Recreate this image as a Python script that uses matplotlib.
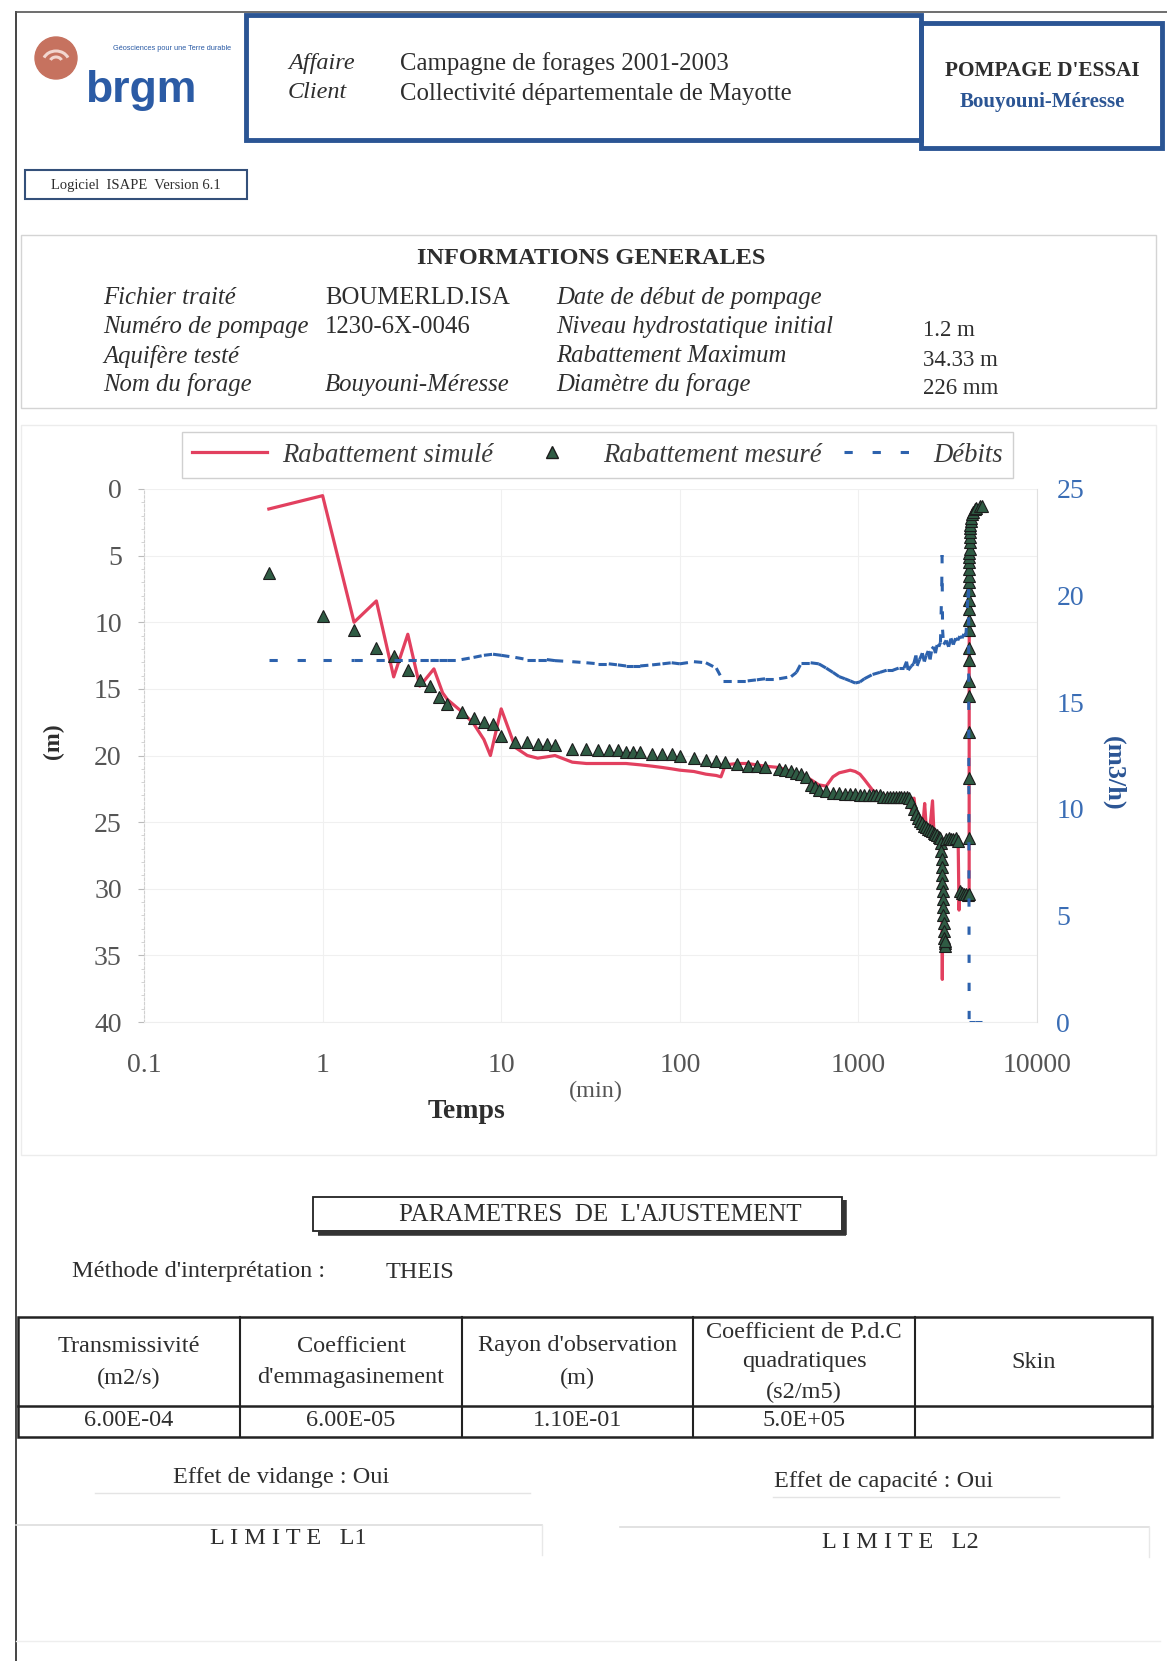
import numpy as np
import matplotlib.pyplot as plt
from matplotlib.patches import Rectangle, Circle, Arc
from matplotlib.lines import Line2D

plt.rcParams['font.family'] = ['Liberation Serif', 'DejaVu Serif']

# rabattement mesure (pompage) : temps en min, rabattement en m
t_mes = [0.5, 1, 1.5, 2, 2.5, 3, 3.5, 4, 4.5, 5, 6, 7, 8, 9, 10, 12, 14, 16, 18, 20,
         25, 30, 35, 40, 45, 50, 55, 60, 70, 80, 90, 100, 120, 140, 160, 180, 210,
         240, 270, 300, 360, 390, 420, 450, 480, 510, 540, 570, 600, 660, 720, 780,
         840, 900, 960, 1020, 1080, 1140, 1200, 1260, 1320, 1380, 1440, 1500, 1560,
         1620, 1680, 1740, 1800, 1860, 1920, 1980, 2040, 2100, 2160, 2220, 2280,
         2340, 2400, 2460, 2520, 2580, 2640, 2700, 2760, 2820, 2880,
         2905, 2915, 2925, 2935, 2945, 2955, 2965, 2975, 2985, 2995, 3005, 3015,
         3025, 3035, 3045, 3055,
         3100, 3200, 3300, 3400, 3500, 3600, 3700, 3800, 3900, 4000, 4100, 4170]
s_mes = [6.3, 9.5, 10.6, 11.9, 12.5, 13.6, 14.3, 14.8, 15.6, 16.1, 16.7, 17.2, 17.5,
         17.6, 18.5, 19.0, 19.0, 19.1, 19.1, 19.2, 19.5, 19.5, 19.6, 19.6, 19.6, 19.7,
         19.7, 19.7, 19.9, 19.9, 19.9, 20.0, 20.2, 20.3, 20.4, 20.5, 20.6, 20.8, 20.8,
         20.9, 21.0, 21.1, 21.2, 21.3, 21.4, 21.6, 22.2, 22.4, 22.6, 22.7, 22.8, 22.8,
         22.9, 22.9, 22.9, 23.0, 23.0, 23.0, 23.0, 23.0, 23.0, 23.1, 23.1, 23.1, 23.1,
         23.1, 23.1, 23.1, 23.1, 23.1, 23.2, 23.5, 24.0, 24.4, 24.7, 24.9, 25.1, 25.3,
         25.4, 25.5, 25.6, 25.7, 25.8, 25.9, 26.0, 26.1, 26.2,
         26.6, 27.2, 27.8, 28.4, 29.0, 29.6, 30.2, 30.8, 31.4, 32.0, 32.6, 33.2, 33.7,
         34.1, 34.33, 33.9,
         26.3, 26.2, 26.3, 26.3, 26.2, 26.4, 30.2, 30.3, 30.4, 30.4, 30.5, 30.4]

# remontee apres arret du pompage
t_arret = 4170
dt_rem = [0.5, 1, 1.5, 2, 2.5, 3, 3.5, 4, 5, 6, 7, 8, 9, 10, 12, 14, 16, 18, 20, 25,
          30, 40, 50, 60, 80, 100, 150, 200, 300, 400, 600, 720]
s_rem = [26.2, 21.7, 18.2, 15.5, 14.4, 12.8, 11.9, 10.6, 9.8, 9.0, 8.3, 7.6, 7.0, 6.5,
         6.0, 5.5, 5.1, 4.8, 4.5, 4.0, 3.6, 3.2, 2.9, 2.7, 2.4, 2.2, 1.9, 1.7, 1.5, 1.4,
         1.3, 1.25]

# rabattement simule
t_sim = [0.5, 1, 1.5, 2, 2.5, 3, 3.5, 4.2, 4.7, 5, 6, 7, 8, 8.7, 10, 12, 14, 16, 18,
         20, 25, 30, 40, 50, 60, 70, 80, 90, 100, 120, 140, 160, 170, 180, 210, 240,
         300, 360, 420, 480, 540, 600, 660, 720, 780, 840, 900, 960, 1020, 1080, 1200,
         1320, 1440, 1560, 1680, 1800, 1920, 2000, 2050, 2100, 2200, 2300, 2350, 2400,
         2500, 2600, 2650, 2750, 2850, 2930, 2950, 2980, 3100, 3300, 3500, 3620, 3660,
         3700, 3900, 4100, 4170]
s_sim = [1.5, 0.5, 10.0, 8.4, 14.1, 10.9, 14.8, 13.5, 15.3, 15.8, 16.7, 17.6, 18.8,
         20.0, 16.5, 19.4, 20.0, 20.2, 20.1, 20.0, 20.5, 20.6, 20.6, 20.6, 20.7, 20.8,
         20.9, 21.0, 21.1, 21.2, 21.4, 21.5, 21.6, 20.7, 20.6, 20.6, 20.8, 20.9, 21.2,
         21.4, 21.8, 22.2, 22.3, 21.6, 21.3, 21.2, 21.1, 21.2, 21.4, 21.8, 22.6, 23.0,
         23.0, 23.0, 23.1, 23.2, 23.3, 24.3, 23.2, 24.6, 25.0, 25.1, 23.6, 25.5, 25.8,
         23.4, 25.9, 26.0, 26.2, 26.3, 36.8, 26.4, 26.3, 26.5, 26.4, 26.6, 31.6, 30.0,
         30.2, 30.4, 30.5]
s_sim_rem = [26.0, 22.5, 19.5, 17.0, 15.0, 13.5, 12.4, 11.4, 10.0, 9.0, 8.2, 7.6, 7.0,
             6.5, 5.8, 5.3, 4.9, 4.6, 4.3, 3.8, 3.4, 3.0, 2.7, 2.5, 2.2, 2.0, 1.8, 1.6,
             1.5, 1.4, 1.35, 1.3]

# debits (m3/h)
t_deb = [0.5, 1, 1.5, 2, 2.5, 3, 3.5, 4, 4.5, 5, 6, 7, 8, 9, 10, 12, 14, 16, 18, 20,
         25, 30, 35, 40, 45, 50, 55, 60, 70, 80, 90, 100, 120, 140, 160, 175, 210, 240,
         270, 300, 360, 420, 450, 480, 540, 600, 660, 720, 780, 840, 900, 960, 1020,
         1080, 1200, 1320, 1440, 1560, 1680, 1800, 1860, 1900, 1980, 2040, 2100, 2130,
         2200, 2280, 2340, 2400, 2460, 2520, 2580, 2640, 2700, 2760, 2820, 2880, 2930,
         2940, 2960, 3000, 3100, 3200, 3300, 3400, 3500, 3600, 3700, 3800, 3900, 4000,
         4100, 4140, 4170, 4500, 4890]
q_deb = [17.0, 17.0, 17.0, 17.0, 17.0, 17.0, 17.0, 17.0, 17.0, 17.0, 17.0, 17.1, 17.2,
         17.25, 17.2, 17.1, 17.0, 17.0, 17.0, 16.95, 16.9, 16.85, 16.8, 16.8, 16.75,
         16.7, 16.7, 16.7, 16.75, 16.8, 16.85, 16.8, 16.9, 16.85, 16.6, 16.0, 16.0, 16.0,
         16.05, 16.1, 16.1, 16.2, 16.4, 16.85, 16.85, 16.8, 16.6, 16.4, 16.2, 16.1, 16.0,
         15.9, 15.95, 16.1, 16.3, 16.4, 16.5, 16.5, 16.6, 16.6, 16.9, 16.5, 16.7, 16.8,
         17.2, 16.7, 17.0, 17.3, 16.9, 17.2, 17.4, 17.0, 17.5, 17.6, 17.3, 17.7, 17.6,
         17.8, 20.5, 21.9, 18.4, 17.7, 17.9, 17.6, 18.0, 17.7, 18.0, 17.9, 18.1, 18.0,
         18.2, 18.1, 19.9, 20.3, 0, 0, 0]

x_ticks = [0.1, 1, 10, 100, 1000, 10000]
x_labels = ['0.1', '1', '10', '100', '1000', '10000']
y_ticks = [0, 5, 10, 15, 20, 25, 30, 35, 40]
q_ticks = [0, 5, 10, 15, 20, 25]

rouge = '#e2405f'
bleu = '#2d62ad'
vert = '#2f5c44'
cadre = '#2b5594'
gris = '#2e2e2e'

fig = plt.figure(figsize=(11.67, 16.61), dpi=100)
page = fig.add_axes([0, 0, 1, 1])
page.set_xlim(0, 1167)
page.set_ylim(1661, 0)
page.axis('off')

# bord de page
page.plot([16, 16], [12, 1661], color='#444444', lw=1.4)
page.plot([16, 1167], [12, 12], color='#555555', lw=1.2)

# logo brgm
page.add_patch(Circle((56, 58), 21, color='#c6725f', zorder=3))
page.add_patch(Arc((56, 62), 26, 22, theta1=200, theta2=340, color='#f2d6cf', lw=2.2, zorder=4))
page.add_patch(Arc((56, 62), 12, 10, theta1=200, theta2=340, color='#f2d6cf', lw=2.2, zorder=4))
page.text(85, 102, 'brgm', family='Liberation Sans', weight='bold', size=32,
          color='#2b5ba5', va='baseline')
page.text(172, 48, 'Géosciences pour une Terre durable', family='Liberation Sans',
          size=5.3, color='#2b5ba5', ha='center', va='center')

# cartouche
page.add_patch(Rectangle((246, 15), 675, 125, fill=False, ec=cadre, lw=3.5))
page.add_patch(Rectangle((921, 23), 241, 125, fill=False, ec=cadre, lw=3.5))
page.text(288, 64, 'Affaire', style='italic', size=17.5, color=gris, va='center')
page.text(288, 93, 'Client', style='italic', size=17.5, color=gris, va='center')
page.text(400, 64, 'Campagne de forages 2001-2003', size=17.8, color=gris, va='center')
page.text(400, 94, 'Collectivité départementale de Mayotte', size=17.8, color=gris,
          va='center')
page.text(1042, 71, "POMPAGE D'ESSAI", weight='bold', size=15.3, color=gris,
          ha='center', va='center')
page.text(1042, 102, 'Bouyouni-Méresse', weight='bold', size=15, color=cadre,
          ha='center', va='center')

page.add_patch(Rectangle((25, 170), 222, 29, fill=False, ec='#34507a', lw=1.5))
page.text(136, 185, 'Logiciel  ISAPE  Version 6.1', size=10.5, color=gris,
          ha='center', va='center')

# informations generales
page.add_patch(Rectangle((21, 235), 1135, 173, fill=False, ec='#d4d4d4', lw=1))
page.text(591, 258, 'INFORMATIONS GENERALES', weight='bold', size=17.5, color=gris,
          ha='center', va='center')
info_g = ['Fichier traité', 'Numéro de pompage', 'Aquifère testé', 'Nom du forage']
info_v = ['BOUMERLD.ISA', '1230-6X-0046', '', 'Bouyouni-Méresse']
info_d = ['Date de début de pompage', 'Niveau hydrostatique initial',
          'Rabattement Maximum', 'Diamètre du forage']
info_u = ['', '1.2 m', '34.33 m', '226 mm']
for i, y in enumerate([298, 327, 356, 385]):
    page.text(103, y, info_g[i], style='italic', size=17.8, color=gris, va='center')
    page.text(325, y, info_v[i], size=17.8, color=gris, va='center',
              style='italic' if i == 3 else 'normal')
    page.text(556, y, info_d[i], style='italic', size=17.8, color=gris, va='center')
    page.text(923, y + 4, info_u[i], size=16.5, color=gris, va='center')

page.add_patch(Rectangle((21, 425), 1135, 730, fill=False, ec='#ececec', lw=1))

# graphique
ax = fig.add_axes([0.1234, 0.3847, 0.7652, 0.3209])
ax.set_xscale('log')
ax.set_xlim(0.1, 10000)
ax.set_ylim(40, 0)
ax.set_xticks(x_ticks)
ax.set_xticklabels(x_labels)
ax.xaxis.set_minor_locator(plt.NullLocator())
ax.set_yticks(y_ticks)
ax.set_yticks(np.arange(0, 41, 1), minor=True)
ax.tick_params(axis='x', length=0, pad=22, labelsize=20, labelcolor='#555555')
ax.tick_params(axis='y', which='major', length=4, color='#bbbbbb', pad=12,
               labelsize=20, labelcolor='#555555')
ax.tick_params(axis='y', which='minor', length=2, color='#cccccc')
ax.grid(True, color='#f0f0f0', lw=0.8)
for side in ['top', 'right']:
    ax.spines[side].set_visible(False)
ax.spines['left'].set_color('#d0d0d0')
ax.spines['left'].set_linestyle((0, (2, 2)))
ax.spines['bottom'].set_color('#eeeeee')

t_rem = [t_arret + d for d in dt_rem]
ax.plot(t_sim + t_rem, s_sim + s_sim_rem, color=rouge, lw=2.3, zorder=3)
ax.plot(t_mes + t_rem, s_mes + s_rem, ls='none', marker='^', ms=9, mfc=vert,
        mec='#1c1c1c', mew=0.8, zorder=4)

ax2 = ax.twinx()
ax2.set_ylim(0, 25)
ax2.set_yticks(q_ticks)
ax2.tick_params(axis='y', length=0, pad=14, labelsize=20, labelcolor='#3a6db5')
for side in ['top', 'left', 'bottom']:
    ax2.spines[side].set_visible(False)
ax2.spines['right'].set_color('#e0e0e0')
# chaque segment repart sur son propre motif de tirets
for i in range(len(t_deb) - 1):
    ax2.plot(t_deb[i:i + 2], q_deb[i:i + 2], color=bleu, lw=2.2, dashes=(2.7, 6.5))

leg_h = [Line2D([], [], color=rouge, lw=2.3),
         Line2D([], [], ls='none', marker='^', ms=9, mfc=vert, mec='#1c1c1c'),
         Line2D([], [], color=bleu, lw=2.2, dashes=(2.7, 6.5))]
leg = ax2.legend(leg_h, ['Rabattement simulé', 'Rabattement mesuré', 'Débits'],
                 loc='center', bbox_to_anchor=(0.512, 0.726),
                 bbox_transform=fig.transFigure, ncol=3, handlelength=2.8,
                 handletextpad=0.55, columnspacing=0.8, numpoints=1,
                 fancybox=False, edgecolor='#d0d0d0', framealpha=1,
                 prop={'style': 'italic', 'size': 19.2})
for txt in leg.get_texts():
    txt.set_color('#3a3a3a')

page.text(53, 741, '(m)', weight='bold', size=17, color=gris, rotation=90,
          ha='center', va='center')
page.text(1114, 773, '(m3/h)', weight='bold', size=19, color=cadre, rotation=270,
          ha='center', va='center')
page.text(596, 1091, '(min)', size=17.5, color='#555555', ha='center', va='center')
page.text(467, 1112, 'Temps', weight='bold', size=20, color=gris, ha='center',
          va='center')

# parametres de l'ajustement
page.plot([318, 846], [1233, 1233], color='#333333', lw=4, solid_capstyle='butt')
page.plot([844, 844], [1200, 1235], color='#333333', lw=4, solid_capstyle='butt')
page.add_patch(Rectangle((313, 1197), 529, 34, fc='white', ec='#222222', lw=1.3))
page.text(600, 1215, "PARAMETRES  DE  L'AJUSTEMENT", size=18, color=gris,
          ha='center', va='center')
page.text(72, 1272, "Méthode d'interprétation :", size=17.5, color=gris, va='center')
page.text(386, 1272, 'THEIS', size=17.5, color=gris, va='center')

col_x = [18, 240, 462, 693, 915, 1152]
page.add_patch(Rectangle((18, 1317), 1134, 120, fill=False, ec='#222222', lw=1.8))
page.plot([18, 1152], [1406, 1406], color='#222222', lw=1.8)
for x in col_x[1:-1]:
    page.plot([x, x], [1317, 1437], color='#222222', lw=1.5)
entetes = [['Transmissivité', '(m2/s)'], ['Coefficient', "d'emmagasinement"],
           ["Rayon d'observation", '(m)'],
           ['Coefficient de P.d.C', 'quadratiques', '(s2/m5)'], ['Skin']]
valeurs = ['6.00E-04', '6.00E-05', '1.10E-01', '5.0E+05', '']
for j in range(5):
    xc = (col_x[j] + col_x[j + 1]) / 2
    lignes = entetes[j]
    n = len(lignes)
    pas = 30 if n == 3 else 32
    y0 = 1362 - pas * (n - 1) / 2
    for k, l in enumerate(lignes):
        page.text(xc, y0 + k * pas, l, size=17.5, color=gris, ha='center', va='center')
    page.text(xc, 1421, valeurs[j], size=17.5, color=gris, ha='center', va='center')

page.text(281, 1478, 'Effet de vidange : Oui', size=17.5, color=gris, ha='center',
          va='center')
page.text(884, 1481, 'Effet de capacité : Oui', size=17.5, color=gris, ha='center',
          va='center')
page.plot([95, 530], [1493, 1493], color='#e4e4e4', lw=1)
page.plot([773, 1059], [1497, 1497], color='#e4e4e4', lw=1)
page.plot([16, 542], [1525, 1525], color='#dddddd', lw=1.2)
page.plot([542, 542], [1525, 1555], color='#e8e8e8', lw=1)
page.plot([620, 1149], [1527, 1527], color='#dddddd', lw=1.2)
page.plot([1149, 1149], [1527, 1557], color='#e8e8e8', lw=1)
page.text(288, 1539, 'L I M I T E   L1', size=17.5, color=gris, ha='center',
          va='center')
page.text(900, 1542, 'L I M I T E   L2', size=17.5, color=gris, ha='center',
          va='center')
page.plot([16, 1160], [1641, 1641], color='#eeeeee', lw=1)

fig.savefig('out.png', dpi=100)
